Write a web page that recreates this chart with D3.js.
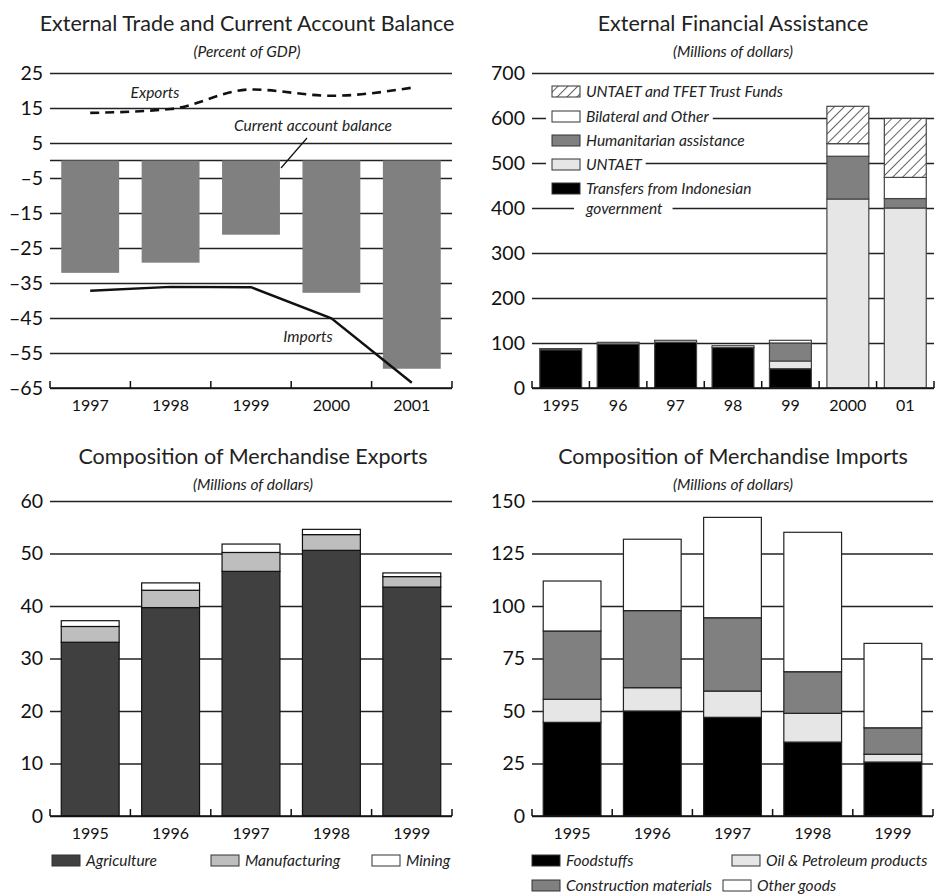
<!DOCTYPE html>
<html>
<head>
<meta charset="utf-8">
<script src="https://cdn.jsdelivr.net/npm/d3@7"></script>
<style>
body { margin: 0; background: #fff; }
svg text { font-family: Lato, "Open Sans", sans-serif; }
</style>
</head>
<body>
<svg id="chart" width="942" height="895"></svg>
<script>
// ---- DATA ----
// external trade (percent of GDP)
let tradeYears = ['1997', '1998', '1999', '2000', '2001']
let currentAccount = [-32.1, -29.2, -21.2, -37.8, -59.5]
let exportsPct = [13.6, 14.7, 20.3, 18.5, 20.8]
let importsPct = [-37.2, -36.1, -36.2, -45.1, -63.5]
let tradeTicks = [25, 15, 5, -5, -15, -25, -35, -45, -55, -65]

// external financial assistance (millions of dollars)
let aidYears = ['1995', '96', '97', '98', '99', '2000', '01']
let aidTransfers = [85, 98, 102, 90, 43, 0, 0]
let aidUntaet = [0, 0, 0, 0, 17, 420, 400]
let aidHumanitarian = [2.5, 0, 0, 0, 40, 95, 21]
let aidBilateral = [0, 3.5, 4, 4, 6, 28, 47]
let aidTrustFunds = [0, 0, 0, 0, 0, 83, 131]
let aidTicks = [0, 100, 200, 300, 400, 500, 600, 700]

// merchandise exports (millions of dollars)
let expYears = ['1995', '1996', '1997', '1998', '1999']
let agriculture = [33.1, 39.7, 46.6, 50.6, 43.6]
let manufacturing = [3.0, 3.3, 3.6, 3.0, 2.0]
let mining = [1.1, 1.4, 1.6, 1.0, 0.7]
let expTicks = [0, 10, 20, 30, 40, 50, 60]

// merchandise imports (millions of dollars)
let impYears = ['1995', '1996', '1997', '1998', '1999']
let foodstuffs = [44.6, 50.0, 47.0, 35.2, 25.7]
let oilPetroleum = [11.0, 11.1, 12.5, 13.7, 3.7]
let construction = [32.5, 36.7, 34.9, 19.8, 12.6]
let otherGoods = [23.8, 34.0, 47.8, 66.4, 40.2]
let impTicks = [0, 25, 50, 75, 100, 125, 150]

const svg = d3.select('#chart')
const gridColor = '#222'
const fmt = d => String(d).replace('-', '\u2013')

// hatch pattern for trust funds
const defs = svg.append('defs')
const hatch = defs.append('pattern')
    .attr('id', 'hatch')
    .attr('patternUnits', 'userSpaceOnUse')
    .attr('width', 7).attr('height', 7)
    .attr('patternTransform', 'rotate(45)')
hatch.append('rect').attr('width', 7).attr('height', 7).attr('fill', '#fff')
hatch.append('line').attr('x1', 0).attr('y1', 0).attr('x2', 0).attr('y2', 7)
    .attr('stroke', '#111').attr('stroke-width', 1.3)

// ---- HELPERS ----
function titles(cx, y, title, sub) {
    svg.append('text')
        .attr('x', cx).attr('y', y)
        .attr('text-anchor', 'middle')
        .attr('font-size', 21.5)
        .attr('fill', '#222')
        .text(title)
    svg.append('text')
        .attr('x', cx).attr('y', y + 26)
        .attr('text-anchor', 'middle')
        .attr('font-size', 15.5)
        .attr('font-style', 'italic')
        .attr('fill', '#222')
        .text(sub)
}

function gridAxis(y, values, x0, x1) {
    svg.append('g')
        .attr('transform', `translate(${x0},0)`)
        .call(d3.axisLeft(y).tickValues(values).tickSize(-(x1 - x0)).tickPadding(7).tickFormat(fmt))
        .call(a => a.select('.domain').remove())
        .call(a => a.selectAll('line').attr('stroke', gridColor).attr('stroke-width', 1.3))
        .call(a => a.selectAll('text').attr('font-size', 19.5).attr('fill', '#111')
            .style('font-family', 'Lato, sans-serif'))
}

function baseAxis(x, yPos) {
    let half = x.step() * x.paddingInner() / 2
    let edges = x.domain().map(d => x(d) - half)
    edges.push(x.range()[1])
    let g = svg.append('g')
    g.append('line')
        .attr('x1', x.range()[0]).attr('x2', x.range()[1])
        .attr('y1', yPos).attr('y2', yPos)
        .attr('stroke', '#111').attr('stroke-width', 1.5)
    g.selectAll('.edge')
        .data(edges)
        .join('line')
        .attr('x1', d => d).attr('x2', d => d)
        .attr('y1', yPos).attr('y2', yPos - 7)
        .attr('stroke', '#111').attr('stroke-width', 1.5)
    g.selectAll('.lab')
        .data(x.domain())
        .join('text')
        .attr('x', d => x(d) + x.bandwidth() / 2)
        .attr('y', yPos + 23)
        .attr('text-anchor', 'middle')
        .attr('font-size', 16)
        .attr('fill', '#111')
        .text(d => d)
}

function stackedBars(x, y, years, keys, series, fills, stroke, strokeW) {
    let rows = years.map((yr, i) => {
        let r = {year: yr}
        keys.forEach((k, j) => r[k] = series[j][i])
        return r
    })
    let stacked = d3.stack().keys(keys)(rows)
    svg.append('g')
        .selectAll('g')
        .data(stacked)
        .join('g')
            .attr('fill', (d, i) => fills[i])
        .selectAll('rect')
        .data(d => d.filter(v => v[1] - v[0] > 0))
        .join('rect')
            .attr('x', d => x(d.data.year))
            .attr('y', d => y(d[1]))
            .attr('width', x.bandwidth())
            .attr('height', d => y(d[0]) - y(d[1]))
            .attr('stroke', stroke)
            .attr('stroke-width', strokeW)
}

function legendItem(x, y, fill, label, bg) {
    let g = svg.append('g')
    let bgRect = g.append('rect').attr('fill', '#fff')
    g.append('rect')
        .attr('x', x).attr('y', y - 6)
        .attr('width', 28).attr('height', 11)
        .attr('fill', fill)
        .attr('stroke', '#333').attr('stroke-width', 1)
    let t = g.append('text')
        .attr('x', x + 34).attr('y', y + 5)
        .attr('font-size', 15.5)
        .attr('font-style', 'italic')
        .attr('fill', '#222')
        .text(label)
    if (bg) {
        let w = t.node().getComputedTextLength()
        bgRect.attr('x', x - 6).attr('y', y - 10).attr('width', 34 + w + 10).attr('height', 20)
    }
    return t
}

// ---- PANEL 1: EXTERNAL TRADE ----
titles(247, 31, 'External Trade and Current Account Balance', '(Percent of GDP)')
let x1 = d3.scaleBand().domain(tradeYears).range([50, 452]).paddingInner(0.28).paddingOuter(0.14)
let y1 = d3.scaleLinear().domain([-65, 25]).range([388, 73])
gridAxis(y1, tradeTicks, 50, 452)
svg.append('line')
    .attr('x1', 50).attr('x2', 452)
    .attr('y1', y1(0)).attr('y2', y1(0))
    .attr('stroke', gridColor).attr('stroke-width', 1.3)

svg.append('g')
    .selectAll('rect')
    .data(currentAccount)
    .join('rect')
    .attr('x', (d, i) => x1(tradeYears[i]))
    .attr('y', y1(0))
    .attr('width', x1.bandwidth())
    .attr('height', d => y1(d) - y1(0))
    .attr('fill', '#808080')
baseAxis(x1, y1(-65))

let cx1 = (d, i) => x1(tradeYears[i]) + x1.bandwidth() / 2
svg.append('path')
    .datum(exportsPct)
    .attr('fill', 'none')
    .attr('stroke', '#111')
    .attr('stroke-width', 2.6)
    .attr('stroke-dasharray', '9,6')
    .attr('d', d3.line().x(cx1).y(d => y1(d)).curve(d3.curveMonotoneX))
svg.append('path')
    .datum(importsPct)
    .attr('fill', 'none')
    .attr('stroke', '#111')
    .attr('stroke-width', 2.4)
    .attr('d', d3.line().x(cx1).y(d => y1(d)))

svg.append('text').attr('x', 155).attr('y', 98).attr('text-anchor', 'middle')
    .attr('font-size', 15.5).attr('font-style', 'italic').attr('fill', '#222').text('Exports')
svg.append('text').attr('x', 313).attr('y', 131).attr('text-anchor', 'middle')
    .attr('font-size', 15.5).attr('font-style', 'italic').attr('fill', '#222').text('Current account balance')
svg.append('line').attr('x1', 307).attr('y1', 138).attr('x2', 281).attr('y2', 168)
    .attr('stroke', '#111').attr('stroke-width', 1.2)
svg.append('text').attr('x', 308).attr('y', 342).attr('text-anchor', 'middle')
    .attr('font-size', 15.5).attr('font-style', 'italic').attr('fill', '#222').text('Imports')

// ---- PANEL 2: EXTERNAL FINANCIAL ASSISTANCE ----
titles(733, 31, 'External Financial Assistance', '(Millions of dollars)')
let x2 = d3.scaleBand().domain(aidYears).range([532, 934]).paddingInner(0.27).paddingOuter(0.135)
let y2 = d3.scaleLinear().domain([0, 700]).range([388, 73])
gridAxis(y2, aidTicks, 532, 934)

// legend sits on the grid, with white backing
legendItem(552, 92, 'url(#hatch)', 'UNTAET and TFET Trust Funds', false)
legendItem(552, 117, '#fff', 'Bilateral and Other', true)
legendItem(552, 141, '#808080', 'Humanitarian assistance', false)
legendItem(552, 165, '#e6e6e6', 'UNTAET', true)
legendItem(552, 189, '#000', 'Transfers from Indonesian', false)
let gov = svg.append('g')
let govBg = gov.append('rect').attr('fill', '#fff')
let govText = gov.append('text')
    .attr('x', 586).attr('y', 214)
    .attr('font-size', 15.5).attr('font-style', 'italic').attr('fill', '#222')
    .text('government')
let gw = govText.node().getComputedTextLength()
govBg.attr('x', 586 - 12).attr('y', 200).attr('width', gw + 22).attr('height', 18)

stackedBars(x2, y2, aidYears,
    ['transfers', 'untaet', 'humanitarian', 'bilateral', 'trust'],
    [aidTransfers, aidUntaet, aidHumanitarian, aidBilateral, aidTrustFunds],
    ['#000', '#e6e6e6', '#808080', '#fff', 'url(#hatch)'], '#444', 1.2)
baseAxis(x2, y2(0))

// ---- PANEL 3: MERCHANDISE EXPORTS ----
titles(253, 464, 'Composition of Merchandise Exports', '(Millions of dollars)')
let x3 = d3.scaleBand().domain(expYears).range([50, 452]).paddingInner(0.28).paddingOuter(0.14)
let y3 = d3.scaleLinear().domain([0, 60]).range([816, 501])
gridAxis(y3, expTicks, 50, 452)
stackedBars(x3, y3, expYears,
    ['agriculture', 'manufacturing', 'mining'],
    [agriculture, manufacturing, mining],
    ['#404040', '#bebebe', '#fff'], '#111', 1.2)
baseAxis(x3, y3(0))
legendItem(52, 861, '#404040', 'Agriculture', false)
legendItem(211, 861, '#bebebe', 'Manufacturing', false)
legendItem(372, 861, '#fff', 'Mining', false)

// ---- PANEL 4: MERCHANDISE IMPORTS ----
titles(733, 464, 'Composition of Merchandise Imports', '(Millions of dollars)')
let x4 = d3.scaleBand().domain(impYears).range([532, 933]).paddingInner(0.28).paddingOuter(0.14)
let y4 = d3.scaleLinear().domain([0, 150]).range([816, 501])
gridAxis(y4, impTicks, 532, 933)
stackedBars(x4, y4, impYears,
    ['food', 'oil', 'construction', 'other'],
    [foodstuffs, oilPetroleum, construction, otherGoods],
    ['#000', '#e6e6e6', '#808080', '#fff'], '#222', 1.2)
baseAxis(x4, y4(0))
legendItem(532, 861, '#000', 'Foodstuffs', false)
legendItem(732, 861, '#e6e6e6', 'Oil & Petroleum products', false)
legendItem(532, 886, '#808080', 'Construction materials', false)
legendItem(723, 886, '#fff', 'Other goods', false)
</script>
</body>
</html>
